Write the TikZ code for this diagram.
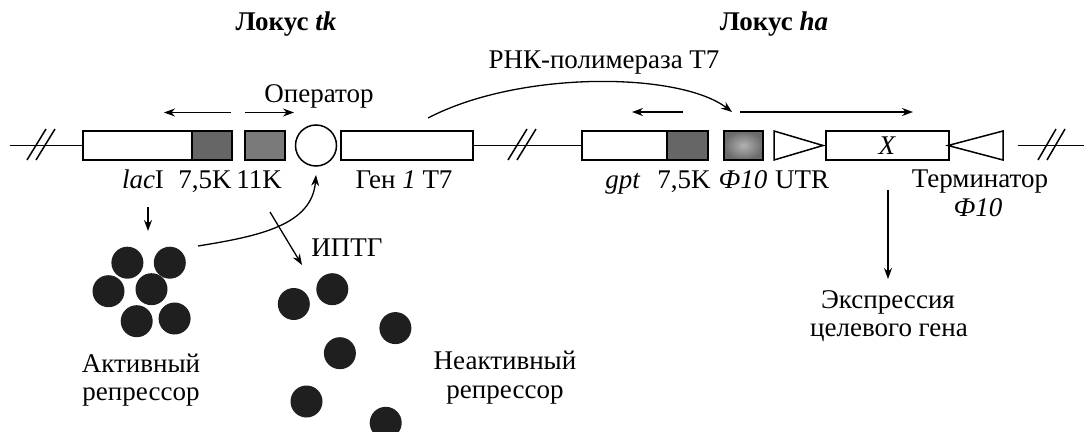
\documentclass[tikz,border=0pt]{standalone}
\usepackage{fontspec}
\setmainfont{Liberation Serif}
\usetikzlibrary{arrows.meta}
\begin{document}
\begin{tikzpicture}[x=1pt,y=-1pt,
  dna/.style={line width=1.5pt},
  gene/.style={draw,line width=1.5pt,fill=white,inner sep=0pt,minimum height=29pt,anchor=west,font=\fontsize{27}{29}\selectfont},
  prom/.style={draw,line width=1.5pt,fill=black!60,inner sep=0pt,minimum height=29pt,anchor=west},
  lbl/.style={anchor=base,inner sep=0pt,font=\fontsize{27}{29}\selectfont},
  blbl/.style={anchor=base,inner sep=0pt,font=\bfseries\fontsize{27}{29}\selectfont},
  arr/.style={line width=1.3pt,-{Stealth[length=11pt,width=8pt]}},
  rep/.style={circle,fill=black!88,inner sep=0pt,minimum size=32pt},
  slash/.style={line width=1.5pt}
]
\useasboundingbox (0,0) rectangle (1084,431);

% --- boxes ---
\node[gene,minimum width=109pt] (lac) at (82,145.5) {};
\node[prom,minimum width=40pt] (p75a) at (191,145.5) {};
\node[prom,minimum width=40pt,fill=black!52] (p11) at (244,145.5) {};
\node[draw,circle,line width=1.5pt,minimum size=41pt,inner sep=0pt] (op) at (316,145.5) {};
\node[gene,minimum width=132pt] (gen1) at (340,145.5) {};
\node[gene,minimum width=85pt] (gpt) at (581,145.5) {};
\node[prom,minimum width=41pt] (p75b) at (666,145.5) {};
\node[prom,minimum width=39pt,inner color=black!30,outer color=black!58] (phi) at (723,145.5) {};
\draw[line width=1.5pt] (774,131) -- (823,145.5) -- (774,160) -- cycle;
\node[gene,minimum width=123pt] (X) at (825,145.5) {\textit{X}};
\draw[line width=1.5pt] (1003,131) -- (948,145.5) -- (1003,160) -- cycle;

% --- DNA line ---
\coordinate (L0) at (10,145.5);
\coordinate (R0) at (1018,145.5);
\coordinate (R1) at (1084,145.5);
\draw[dna] (L0) -- (lac.west);
\draw[dna] (gen1.east) -- (gpt.west);
\draw[dna] (R0) -- (R1);
\draw[slash] (27,160) -- (46,129) (36,160) -- (55,129);
\draw[slash] (508,160) -- (527,129) (517,160) -- (536,129);
\draw[slash] (1038,160) -- (1056,129) (1047,160) -- (1065,129);

% --- transcription arrows ---
\coordinate (a1s) at (231,112.5); \coordinate (a1e) at (164,112.5);
\coordinate (a2s) at (245,112.5); \coordinate (a2e) at (294,112.5);
\coordinate (a3s) at (683,112); \coordinate (a3e) at (632,112);
\coordinate (a4s) at (740,112); \coordinate (a4e) at (913,112);
\draw[arr] (a1s) -- (a1e);
\draw[arr] (a2s) -- (a2e);
\draw[arr] (a3s) -- (a3e);
\draw[arr] (a4s) -- (a4e);

% --- T7 polymerase curve ---
\coordinate (polS) at (428,118);
\coordinate (polE) at (732,112);
\draw[arr] (polS) .. controls (520,70) and (680,72) .. (polE);

% --- labels ---
\node[blbl] (tk) at (286,30) {Локус \textit{tk}};
\node[blbl] (ha) at (774,30) {Локус \textit{ha}};
\node[lbl] (pol) at (604,68) {РНК-полимераза Т7};
\node[lbl] (opl) at (319,102) {Оператор};
\node[lbl] (llac) at (143,188) {\textit{lac}I};
\node[lbl] (l75a) at (205,188) {7,5K};
\node[lbl] (l11) at (259,188) {11K};
\node[lbl] (lgen) at (404,188) {Ген \textit{1} Т7};
\node[lbl] (lgpt) at (623,188) {\textit{gpt}};
\node[lbl] (l75b) at (684,188) {7,5K};
\node[lbl] (lphi) at (743,188) {\textit{Ф10}};
\node[lbl] (lutr) at (802,188) {UTR};
\node[lbl] (lterm) at (980,187) {Терминатор};
\node[lbl] (lterm2) at (978,216) {\textit{Ф10}};

% --- expression arrow ---
\coordinate (exS) at (888,190);
\coordinate (exE) at (888,279);
\draw[arr] (exS) -- (exE);
\node[lbl] (ex1) at (888,308) {Экспрессия};
\node[lbl] (ex2) at (889,336) {целевого гена};

% --- lacI -> repressor ---
\coordinate (lacS) at (148,207);
\coordinate (lacE) at (148,231);
\draw[arr] (lacS) -- (lacE);

% --- active repressor ---
\node[rep] (r1) at (127.4,262.7) {};
\node[rep] (r2) at (169.8,262.7) {};
\node[rep] (r3) at (108.5,291.2) {};
\node[rep] (r4) at (151.5,289.2) {};
\node[rep] (r5) at (136.7,321.2) {};
\node[rep] (r6) at (174.6,318.5) {};
\node[lbl] (act1) at (141,372) {Активный};
\node[lbl] (act2) at (141,400) {репрессор};

% --- repressor -> operator ---
\coordinate (opS) at (198,246);
\coordinate (opE) at (316,175);
\draw[arr] (opS) .. controls (260,236) and (312,225) .. (opE);

% --- IPTG ---
\coordinate (ipS) at (270,212);
\coordinate (ipE) at (302,265);
\draw[arr] (ipS) -- (ipE);
\node[lbl] (ipl) at (347,256) {ИПТГ};

% --- inactive repressor ---
\node[rep] (i1) at (293.8,304) {};
\node[rep] (i2) at (332.3,289.2) {};
\node[rep] (i3) at (395.4,328.1) {};
\node[rep] (i4) at (339.9,353.2) {};
\node[rep] (i5) at (306.5,401.5) {};
\node[rep] (i6) at (385.7,422.8) {};
\node[lbl] (ina1) at (505,369) {Неактивный};
\node[lbl] (ina2) at (505,398) {репрессор};
\end{tikzpicture}
\end{document}
